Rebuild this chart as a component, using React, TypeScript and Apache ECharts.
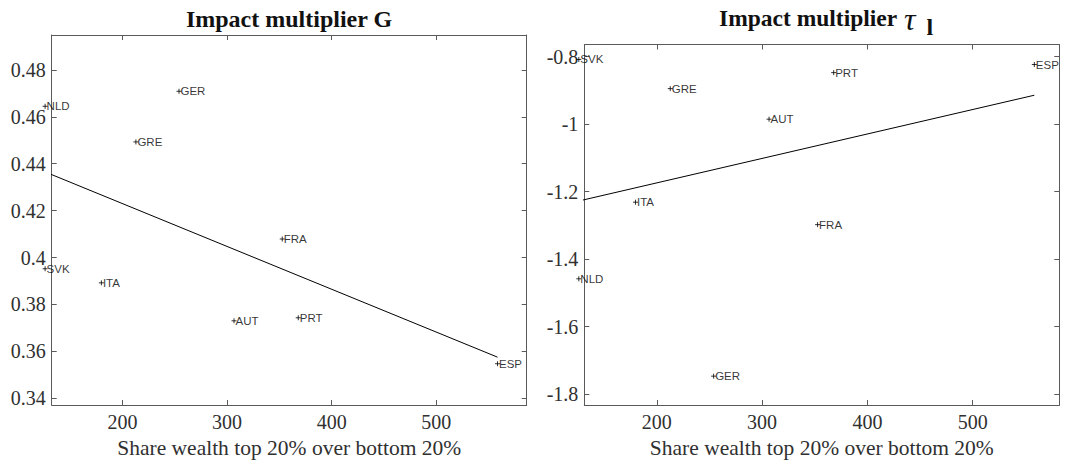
import React, { useEffect, useRef } from "react";
import * as echarts from "echarts";

// ---- data ----
const countries = ["NLD", "GER", "GRE", "FRA", "SVK", "ITA", "AUT", "PRT", "ESP"];
const wealthShare = [126, 254, 212.8, 352.7, 126, 179.8, 306.6, 368, 558.5];
const multiplierG = [0.4645, 0.4709, 0.4493, 0.4079, 0.3952, 0.3892, 0.373, 0.3743, 0.3547];
const multiplierTau = [-1.458, -1.7465, -0.8945, -1.2975, -0.808, -1.231, -0.985, -0.847, -0.823];

// fitted regression lines (endpoints at min / max of wealth share)
const fitShare = [126, 558.5];
const fitG = [0.4365, 0.3575];
const fitTau = [-1.2274, -0.914];

// axis limits
const xLimG = [132.3, 586.4];
const yLimG = [0.3371, 0.4949];
const xLimTau = [131.2, 582.2];
const yLimTau = [-1.832, -0.7637];

const xTitle = "Share wealth top 20% over bottom 20%";

const SERIF = "Liberation Serif";
const SANS = "Liberation Sans";
const AXIS_COLOR = "#5a5a5a";
const TEXT_COLOR = "#303030";

function axesFor(gridIndex: number, xr: number[], yr: number[], ySplit: number) {
  const common = {
    gridIndex,
    axisLine: { show: true, lineStyle: { color: AXIS_COLOR, width: 1 } },
    axisTick: { show: true, inside: true, length: 5, lineStyle: { color: AXIS_COLOR } },
    splitLine: { show: false },
  };
  const xAxes = [
    {
      ...common,
      type: "value",
      position: "bottom",
      min: xr[0],
      max: xr[1],
      splitNumber: 5,
      axisLabel: {
        show: true,
        showMinLabel: false,
        showMaxLabel: false,
        margin: 7,
        color: TEXT_COLOR,
        fontFamily: SERIF,
        fontSize: 20,
      },
      name: xTitle,
      nameLocation: "middle",
      nameGap: 32,
      nameTextStyle: { color: TEXT_COLOR, fontFamily: SERIF, fontSize: 21.5 },
    },
    {
      ...common,
      type: "value",
      position: "top",
      min: xr[0],
      max: xr[1],
      splitNumber: 5,
      axisLabel: { show: false },
    },
  ];
  const yAxes = [
    {
      ...common,
      type: "value",
      position: "left",
      min: yr[0],
      max: yr[1],
      splitNumber: ySplit,
      axisLabel: {
        show: true,
        showMinLabel: false,
        showMaxLabel: false,
        margin: 6,
        color: TEXT_COLOR,
        fontFamily: SERIF,
        fontSize: 20,
      },
    },
    {
      ...common,
      type: "value",
      position: "right",
      min: yr[0],
      max: yr[1],
      splitNumber: ySplit,
      axisLabel: { show: false },
    },
  ];
  return { xAxes, yAxes };
}

function scatterSeries(xIdx: number, yIdx: number, ys: number[]) {
  return {
    type: "scatter",
    xAxisIndex: xIdx,
    yAxisIndex: yIdx,
    clip: false,
    symbol: "path://M0,5L10,5M5,0L5,10",
    symbolSize: 5,
    itemStyle: { color: "rgba(0,0,0,0)", borderColor: "#000", borderWidth: 1 },
    label: {
      show: true,
      position: "right",
      distance: -1.5,
      formatter: "{b}",
      color: "#000",
      fontFamily: SANS,
      fontSize: 11.5,
    },
    data: countries.map((c, i) => ({ name: c, value: [wealthShare[i], ys[i]] })),
    z: 3,
  };
}

function lineSeries(xIdx: number, yIdx: number, ys: number[]) {
  return {
    type: "line",
    xAxisIndex: xIdx,
    yAxisIndex: yIdx,
    clip: true,
    showSymbol: false,
    symbol: "none",
    lineStyle: { color: "#000", width: 1 },
    data: fitShare.map((x, i) => [x, ys[i]]),
    z: 2,
  };
}

export default function App() {
  const ref = useRef<HTMLDivElement>(null);
  useEffect(() => {
    if (!ref.current) return;
    const chart = echarts.init(ref.current, undefined, { renderer: "svg" });
    const a = axesFor(0, xLimG, yLimG, 8);
    const b = axesFor(1, xLimTau, yLimTau, 5);
    const option = {
      animation: false,
      backgroundColor: "#fff",
      grid: [
        { left: 51.7, top: 35, width: 475, height: 370 },
        { left: 584.3, top: 44.5, width: 475, height: 362 },
      ],
      xAxis: [...a.xAxes, ...b.xAxes],
      yAxis: [...a.yAxes, ...b.yAxes],
      graphic: [
        {
          type: "text",
          x: 289,
          y: 18.5,
          style: {
            text: "Impact multiplier G",
            font: `bold 24px "${SERIF}"`,
            fill: "#111",
            align: "center",
            verticalAlign: "middle",
          },
        },
        {
          type: "text",
          x: 719,
          y: 17.6,
          style: {
            text: "Impact multiplier",
            font: `bold 23.5px "${SERIF}"`,
            fill: "#111",
            align: "left",
            verticalAlign: "middle",
          },
        },
        {
          type: "text",
          x: 904,
          y: 19,
          style: {
            text: "τ",
            font: `italic 32px "${SERIF}"`,
            fill: "#111",
            align: "left",
            verticalAlign: "middle",
          },
        },
        {
          type: "text",
          x: 926.5,
          y: 26.6,
          style: {
            text: "l",
            font: `bold 24px "${SERIF}"`,
            fill: "#111",
            align: "left",
            verticalAlign: "middle",
          },
        },
      ],
      series: [
        lineSeries(0, 0, fitG),
        scatterSeries(0, 0, multiplierG),
        lineSeries(2, 2, fitTau),
        scatterSeries(2, 2, multiplierTau),
      ],
    };
    chart.setOption(option as any);
    return () => chart.dispose();
  }, []);
  return (
    <div
      ref={ref}
      style={{ position: "fixed", left: 0, top: 0, width: 1067, height: 464, background: "#fff" }}
    />
  );
}
